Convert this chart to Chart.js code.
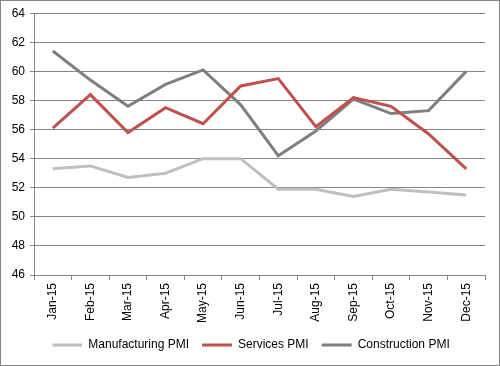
<!DOCTYPE html>
<html>
<head>
<meta charset="utf-8">
<script src="https://cdn.jsdelivr.net/npm/chart.js@4"></script>
<style>
  body { margin: 0; background: #fff; }
  #wrap { width: 498px; height: 364px; border: 1px solid #868686; }
</style>
</head>
<body>
<div id="wrap"><canvas id="chart" width="498" height="364"></canvas></div>
<script>
/* PMI readings for 2015 */
const months = ['Jan-15', 'Feb-15', 'Mar-15', 'Apr-15', 'May-15', 'Jun-15',
                'Jul-15', 'Aug-15', 'Sep-15', 'Oct-15', 'Nov-15', 'Dec-15'];
const manufacturing = [53.3, 53.5, 52.7, 53.0, 54.0, 54.0, 51.9, 51.9, 51.4, 51.9, 51.7, 51.5];
const services      = [56.1, 58.4, 55.8, 57.5, 56.4, 59.0, 59.5, 56.2, 58.2, 57.6, 55.7, 53.3];
const construction  = [61.4, 59.4, 57.6, 59.1, 60.1, 57.7, 54.2, 55.9, 58.1, 57.1, 57.3, 60.0];

const FONT = { family: "'Liberation Sans', Arial, sans-serif", size: 12 };
const GRID = '#868686';

function series(label, data, color) {
    return {
        label: label,
        data: data,
        borderColor: color,
        backgroundColor: color,
        borderWidth: 3,
        pointRadius: 0,
        tension: 0,
        fill: false
    };
}

/* nudge the legend a little to the right, like the original */
const legendShift = {
    id: 'legendShift',
    afterLayout: function(chart) {
        if (chart.legend) {
            chart.legend.left += 8;
            chart.legend.right += 8;
        }
    }
};

new Chart(document.getElementById('chart'), {
    type: 'line',
    data: {
        labels: months,
        datasets: [
            series('Manufacturing PMI', manufacturing, '#bfbfbf'),
            series('Services PMI', services, '#c0504d'),
            series('Construction PMI', construction, '#7f7f7f')
        ]
    },
    options: {
        responsive: false,
        animation: false,
        layout: { padding: { top: 9, right: 14, left: 0, bottom: 4 } },
        scales: {
            x: {
                offset: true,
                grid: { offset: true, drawOnChartArea: false, color: GRID, tickLength: 5 },
                border: { color: GRID },
                ticks: { color: '#000', font: FONT, minRotation: 90, maxRotation: 90, autoSkip: false, padding: 3 },
                afterFit: function(scale) { scale.height = 51; }
            },
            y: {
                min: 46,
                max: 64,
                grid: { color: GRID, tickLength: 4 },
                border: { color: GRID },
                ticks: { stepSize: 2, color: '#000', font: FONT, padding: 5 },
                afterFit: function(scale) { scale.width = 33; }
            }
        },
        plugins: {
            legend: {
                position: 'bottom',
                labels: {
                    color: '#000',
                    font: FONT,
                    usePointStyle: true,
                    pointStyle: 'line',
                    pointStyleWidth: 30,
                    boxHeight: 12,
                    padding: 13
                }
            },
            tooltip: { enabled: false }
        }
    },
    plugins: [legendShift]
});
</script>
</body>
</html>
